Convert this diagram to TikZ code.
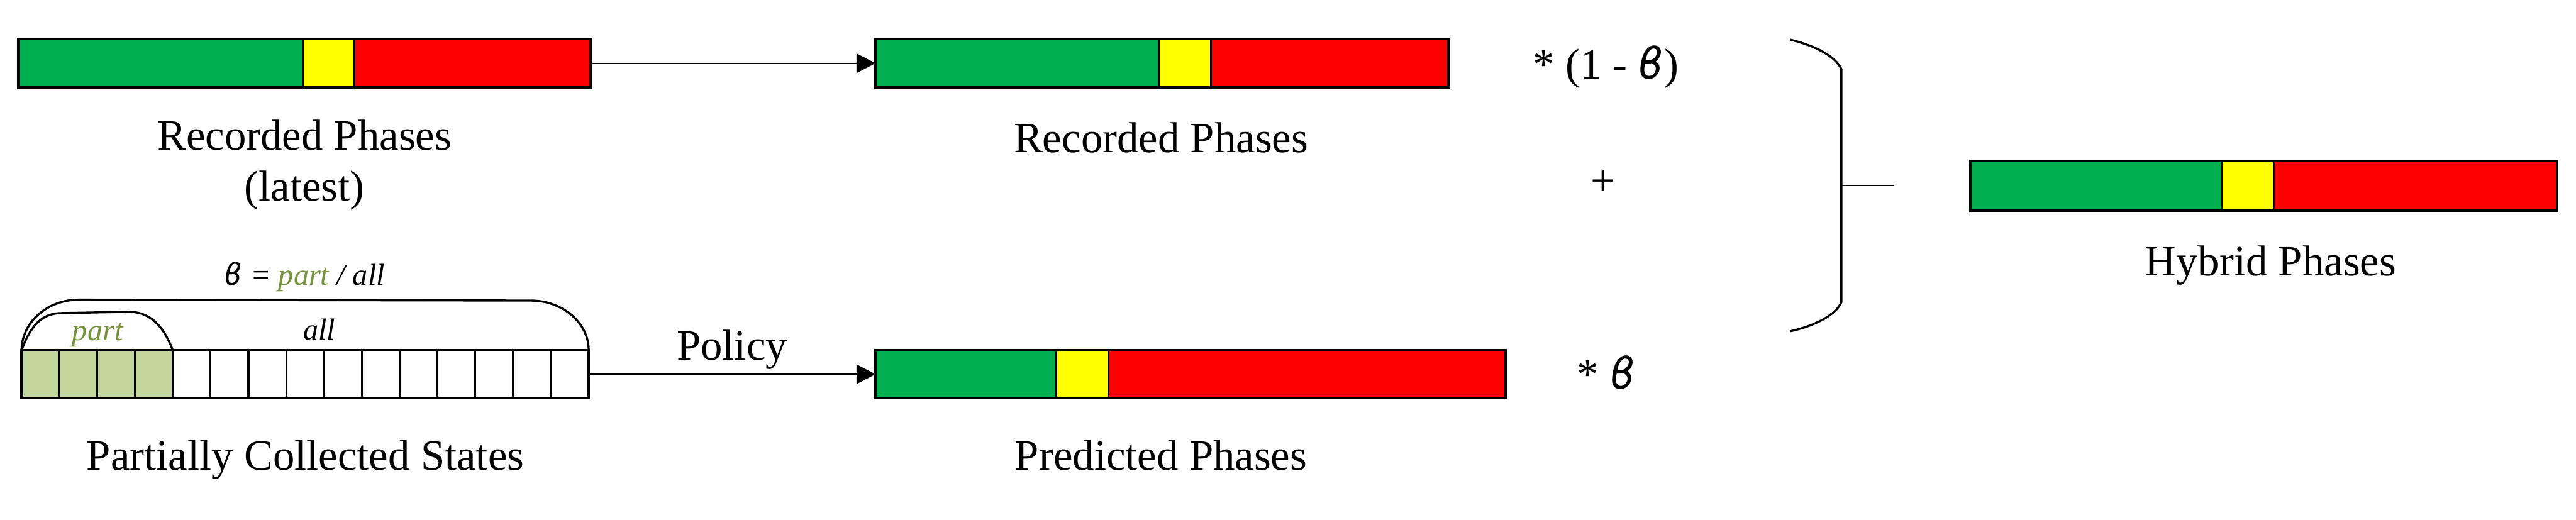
\documentclass[tikz,border=0pt]{standalone}
\usepackage{fontspec}
\setmainfont{Liberation Serif}
\newfontfamily\betafont{DejaVu Sans}
\usetikzlibrary{arrows.meta}
\definecolor{phgreen}{HTML}{00B050}
\definecolor{phyellow}{HTML}{FFFF00}
\definecolor{phred}{HTML}{FF0000}
\definecolor{partfill}{HTML}{C3D69B}
\definecolor{parttext}{HTML}{76923C}
\newcommand{\bsym}{{\betafont\itshape ϐ}}
\tikzset{
  phasebar/.style={draw, line width=1.8pt, inner sep=0pt, outer sep=0pt},
  divider/.style={line width=1.1pt},
  flow/.style={line width=0.6pt, -{Triangle[length=0.44cm,width=0.45cm]}},
  caption/.style={font=\fontsize{28.5}{33.3}\selectfont, inner sep=0pt, anchor=base, align=center},
  ratiotext/.style={font=\fontsize{20}{24}\selectfont\itshape, inner sep=0pt, anchor=base},
}
\begin{document}
\begin{tikzpicture}
  \useasboundingbox (0,0) rectangle (59.64,-12.03);
  % recorded phases (latest)
  \fill[phgreen] (0.43,-0.90) rectangle (7.01,-2.03);
  \fill[phyellow] (7.01,-0.90) rectangle (8.20,-2.03);
  \fill[phred] (8.20,-0.90) rectangle (13.68,-2.03);
  \draw[divider] (7.01,-0.90) -- (7.01,-2.03) (8.20,-0.90) -- (8.20,-2.03);
  \node[phasebar, minimum width=13.25cm, minimum height=1.13cm] (latest) at (7.055,-1.465) {};
  \node[caption] (latestlbl) at (7.05,-4.65) {Recorded Phases\\(latest)};
  % recorded phases
  \fill[phgreen] (20.27,-0.90) rectangle (26.83,-2.03);
  \fill[phyellow] (26.83,-0.90) rectangle (28.04,-2.03);
  \fill[phred] (28.04,-0.90) rectangle (33.53,-2.03);
  \draw[divider] (26.83,-0.90) -- (26.83,-2.03) (28.04,-0.90) -- (28.04,-2.03);
  \node[phasebar, minimum width=13.26cm, minimum height=1.13cm] (recorded) at (26.90,-1.465) {};
  \node[caption] (recordedlbl) at (26.88,-3.53) {Recorded Phases};
  \draw[flow] (latest.east) -- (recorded.west);
  % partially collected states
  \fill[partfill] (0.50,-8.11) rectangle (4.00,-9.22);
  \foreach \i in {1,...,14}
    \draw[line width=1.3pt] ({0.50+0.8753*\i},-8.11) -- ++(0,-1.11);
  \node[phasebar, minimum width=13.13cm, minimum height=1.11cm] (states) at (7.065,-8.665) {};
  \node[caption] (stateslbl) at (7.07,-10.89) {Partially Collected States};
  % tabs over the states
  \draw[line width=1.4pt] (0.50,-8.11) .. controls (0.50,-7.47) and (1.09,-6.94) .. (1.82,-6.94)
    -- (12.29,-6.96) .. controls (13.03,-6.96) and (13.63,-7.48) .. (13.63,-8.11);
  \draw[line width=1.4pt] (0.50,-8.11) .. controls (0.72,-7.50) and (1.00,-7.25) .. (1.43,-7.25)
    -- (2.98,-7.22) .. controls (3.40,-7.22) and (3.75,-7.45) .. (4.00,-8.11);
  \node[ratiotext, text=parttext] (partlbl) at (2.26,-7.88) {part};
  \node[ratiotext] (alllbl) at (7.39,-7.87) {all};
  \node[ratiotext] (ratio) at (7.05,-6.60) {\bsym{} = \textcolor{parttext}{part} / all};
  % predicted phases
  \fill[phgreen] (20.27,-8.11) rectangle (24.45,-9.22);
  \fill[phyellow] (24.45,-8.11) rectangle (25.66,-9.22);
  \fill[phred] (25.66,-8.11) rectangle (34.86,-9.22);
  \draw[divider] (24.45,-8.11) -- (24.45,-9.22) (25.66,-8.11) -- (25.66,-9.22);
  \node[phasebar, minimum width=14.59cm, minimum height=1.11cm] (predicted) at (27.565,-8.665) {};
  \node[caption] (predictedlbl) at (26.88,-10.88) {Predicted Phases};
  \draw[flow] (states.east) -- node[caption, yshift=0.33cm] (policy) {Policy} (predicted.west);
  % weights
  \node[caption, anchor=base west] (wrec) at (35.49,-1.82) {* (1 - \bsym)};
  \node[caption] (plus) at (37.11,-4.52) {+};
  \node[caption, anchor=base west] (wpred) at (36.51,-9.01) {* \bsym};
  % bracket
  \draw[line width=1.4pt] (41.45,-0.92) .. controls (42.00,-1.05) and (42.50,-1.30) .. (42.63,-1.60)
    -- (42.63,-7.00) .. controls (42.50,-7.30) and (42.00,-7.55) .. (41.45,-7.67);
  \draw[line width=0.8pt] (42.63,-4.30) -- (43.84,-4.30);
  % hybrid phases
  \fill[phgreen] (45.62,-3.73) rectangle (51.44,-4.87);
  \fill[phyellow] (51.44,-3.73) rectangle (52.64,-4.87);
  \fill[phred] (52.64,-3.73) rectangle (59.20,-4.87);
  \draw[divider] (51.44,-3.73) -- (51.44,-4.87) (52.64,-3.73) -- (52.64,-4.87);
  \node[phasebar, minimum width=13.58cm, minimum height=1.14cm] (hybrid) at (52.41,-4.30) {};
  \node[caption] (hybridlbl) at (52.57,-6.38) {Hybrid Phases};
\end{tikzpicture}
\end{document}
